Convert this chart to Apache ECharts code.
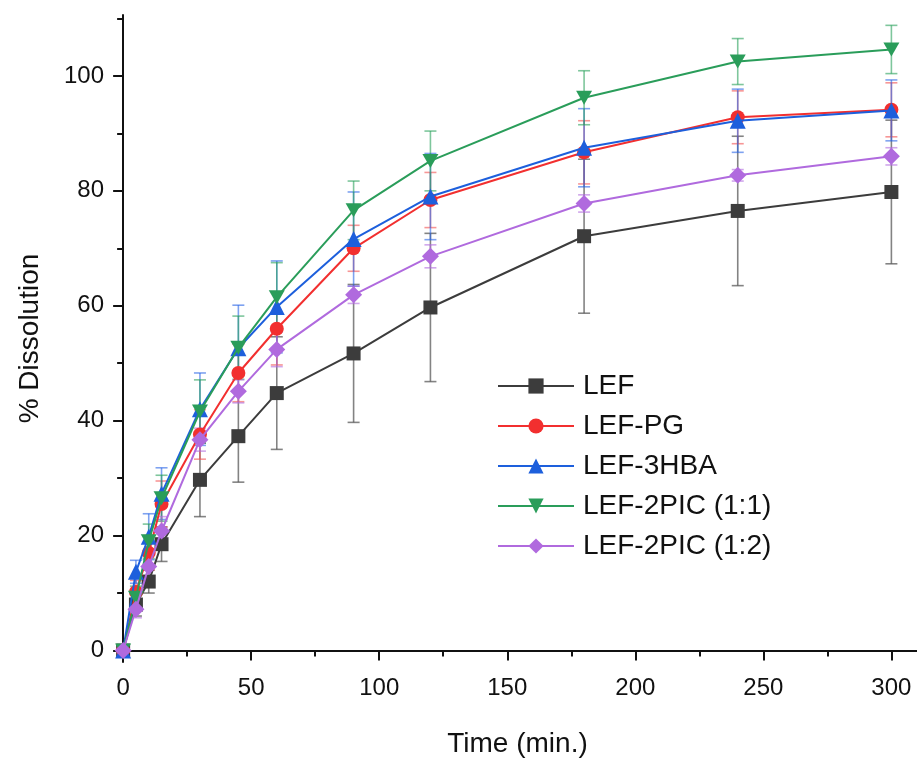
<!DOCTYPE html>
<html>
<head>
<meta charset="utf-8">
<script src="https://cdn.jsdelivr.net/npm/echarts@6/dist/echarts.min.js"></script>
<style>html,body{margin:0;padding:0;background:#fff;}#c{width:917px;height:762px;}</style>
</head>
<body>
<div id="c"></div>
<script>
const times = [0, 5, 10, 15, 30, 45, 60, 90, 120, 180, 240, 300];
const seriesNames = ['LEF', 'LEF-PG', 'LEF-3HBA', 'LEF-2PIC (1:1)', 'LEF-2PIC (1:2)'];
const lef     = [0, 8.0, 12.0, 18.5, 29.7, 37.3, 44.8, 51.7, 59.7, 72.1, 76.5, 79.8];
const lefErr  = [0, 2, 2, 3, 6.4, 8, 9.8, 12, 12.9, 13.4, 13, 12.5];
const pg      = [0, 10.2, 17.0, 25.5, 37.6, 48.3, 56.0, 70.0, 78.4, 86.7, 92.8, 94.1];
const pgErr   = [0, 2, 3, 4, 4.3, 5, 6.3, 4, 4.8, 5.5, 4.6, 4.7];
const hba     = [0, 13.7, 19.8, 27.3, 42.0, 52.6, 59.8, 71.6, 79.0, 87.5, 92.2, 94.0];
const hbaErr  = [0, 2, 4, 4.5, 6.3, 7.5, 8, 8.2, 7.5, 6.8, 5.5, 5.3];
const pic11   = [0, 9.2, 19.0, 26.5, 41.6, 52.7, 61.5, 76.6, 85.2, 96.2, 102.5, 104.6];
const pic11Err= [0, 2, 3, 4, 5.5, 5.5, 6, 5.1, 5.2, 4.7, 4, 4.2];
const pic12   = [0, 7.2, 14.6, 20.8, 36.7, 45.1, 52.4, 61.9, 68.6, 77.8, 82.7, 86.0];
const pic12Err= [0, 1.5, 2, 2.5, 2, 2, 3, 1.5, 2, 1.5, 1, 1.5];

const xMajorTicks = [0, 50, 100, 150, 200, 250, 300];
const xMinorTicks = [25, 75, 125, 175, 225, 275];
const yMajorTicks = [0, 20, 40, 60, 80, 100];
const yMinorTicks = [10, 30, 50, 70, 90, 110];

const values = [lef, pg, hba, pic11, pic12];
const errors = [lefErr, pgErr, hbaErr, pic11Err, pic12Err];
const colors = ['#3c3c3c', '#f22f2f', '#1d5fdc', '#2a9d5a', '#b06ade'];
const errColors = ['rgba(90,90,90,0.75)', 'rgba(242,80,80,0.6)', 'rgba(40,100,230,0.6)', 'rgba(40,160,90,0.6)', 'rgba(176,106,222,0.6)'];
const symbols = ['rect', 'circle', 'triangle', 'path://M0,0 L10,0 L5,9 Z', 'diamond'];
const symbolSizes = [14, 14, 16, [16, 14], 17];

const AX = {min: -2, max: 310};
const AY = {min: -2, max: 110.6};
const font = 'Liberation Sans, Arial, sans-serif';

const series = [];
values.forEach((vals, i) => {
  series.push({
    type: 'custom',
    name: 'err ' + seriesNames[i],
    xAxisIndex: 0, yAxisIndex: 0,
    z: 1,
    silent: true,
    data: times.map((t, k) => [t, vals[k] - errors[i][k], vals[k] + errors[i][k]]),
    renderItem: function (params, api) {
      const x = api.value(0);
      const lo = api.coord([x, api.value(1)]);
      const hi = api.coord([x, api.value(2)]);
      const w = 6;
      const st = {stroke: errColors[i], lineWidth: 1.6};
      return {
        type: 'group',
        children: [
          {type: 'line', shape: {x1: lo[0], y1: lo[1], x2: hi[0], y2: hi[1]}, style: st},
          {type: 'line', shape: {x1: lo[0] - w, y1: lo[1], x2: lo[0] + w, y2: lo[1]}, style: st},
          {type: 'line', shape: {x1: hi[0] - w, y1: hi[1], x2: hi[0] + w, y2: hi[1]}, style: st}
        ]
      };
    }
  });
});
values.forEach((vals, i) => {
  series.push({
    type: 'line',
    name: seriesNames[i],
    xAxisIndex: 0, yAxisIndex: 0,
    z: 3 + i,
    data: times.map((t, k) => [t, vals[k]]),
    symbol: symbols[i],
    symbolSize: symbolSizes[i],
    showAllSymbol: true,
    lineStyle: {color: colors[i], width: 2},
    itemStyle: {color: colors[i], opacity: 1},
    emphasis: {disabled: true},
    animation: false
  });
});

const axisLineStyle = {show: true, lineStyle: {color: '#111', width: 2}};
const option = {
  animation: false,
  backgroundColor: '#fff',
  grid: {left: 118, right: 0, top: 15, bottom: 100, containLabel: false, outerBoundsMode: 'none'},
  legend: {
    data: seriesNames,
    orient: 'vertical',
    left: 492,
    top: 367,
    itemWidth: 76,
    itemHeight: 19,
    itemGap: 12,
    textStyle: {fontSize: 28, fontFamily: font, color: '#111', padding: [0, 0, 0, 4]},
    selectedMode: false
  },
  xAxis: [
    {
      type: 'value', min: AX.min, max: AX.max, position: 'bottom',
      axisLine: axisLineStyle,
      axisTick: {show: true, inside: false, length: 10, customValues: xMajorTicks, lineStyle: {color: '#111', width: 2}},
      axisLabel: {show: true, customValues: xMajorTicks, fontSize: 24, fontFamily: font, color: '#111', margin: 14},
      splitLine: {show: false},
      name: 'Time (min.)', nameLocation: 'middle', nameGap: 68,
      nameTextStyle: {fontSize: 28, fontFamily: font, color: '#111'}
    },
    {
      type: 'value', min: AX.min, max: AX.max, position: 'bottom',
      axisLine: {show: false},
      axisTick: {show: true, inside: false, length: 6, customValues: xMinorTicks, lineStyle: {color: '#111', width: 2}},
      axisLabel: {show: false},
      splitLine: {show: false}
    }
  ],
  yAxis: [
    {
      type: 'value', min: AY.min, max: AY.max, position: 'left',
      axisLine: axisLineStyle,
      axisTick: {show: true, inside: false, length: 10, customValues: yMajorTicks, lineStyle: {color: '#111', width: 2}},
      axisLabel: {show: true, customValues: yMajorTicks, fontSize: 24, fontFamily: font, color: '#111', margin: 14},
      splitLine: {show: false},
      name: '% Dissolution', nameLocation: 'middle', nameGap: 74, nameRotate: 90,
      nameTextStyle: {fontSize: 28, fontFamily: font, color: '#111'}
    },
    {
      type: 'value', min: AY.min, max: AY.max, position: 'left',
      axisLine: {show: false},
      axisTick: {show: true, inside: false, length: 6, customValues: yMinorTicks, lineStyle: {color: '#111', width: 2}},
      axisLabel: {show: false},
      splitLine: {show: false}
    }
  ],
  series: series
};
const chart = echarts.init(document.getElementById('c'), null, {renderer: 'canvas'});
chart.setOption(option);
</script>
</body>
</html>
